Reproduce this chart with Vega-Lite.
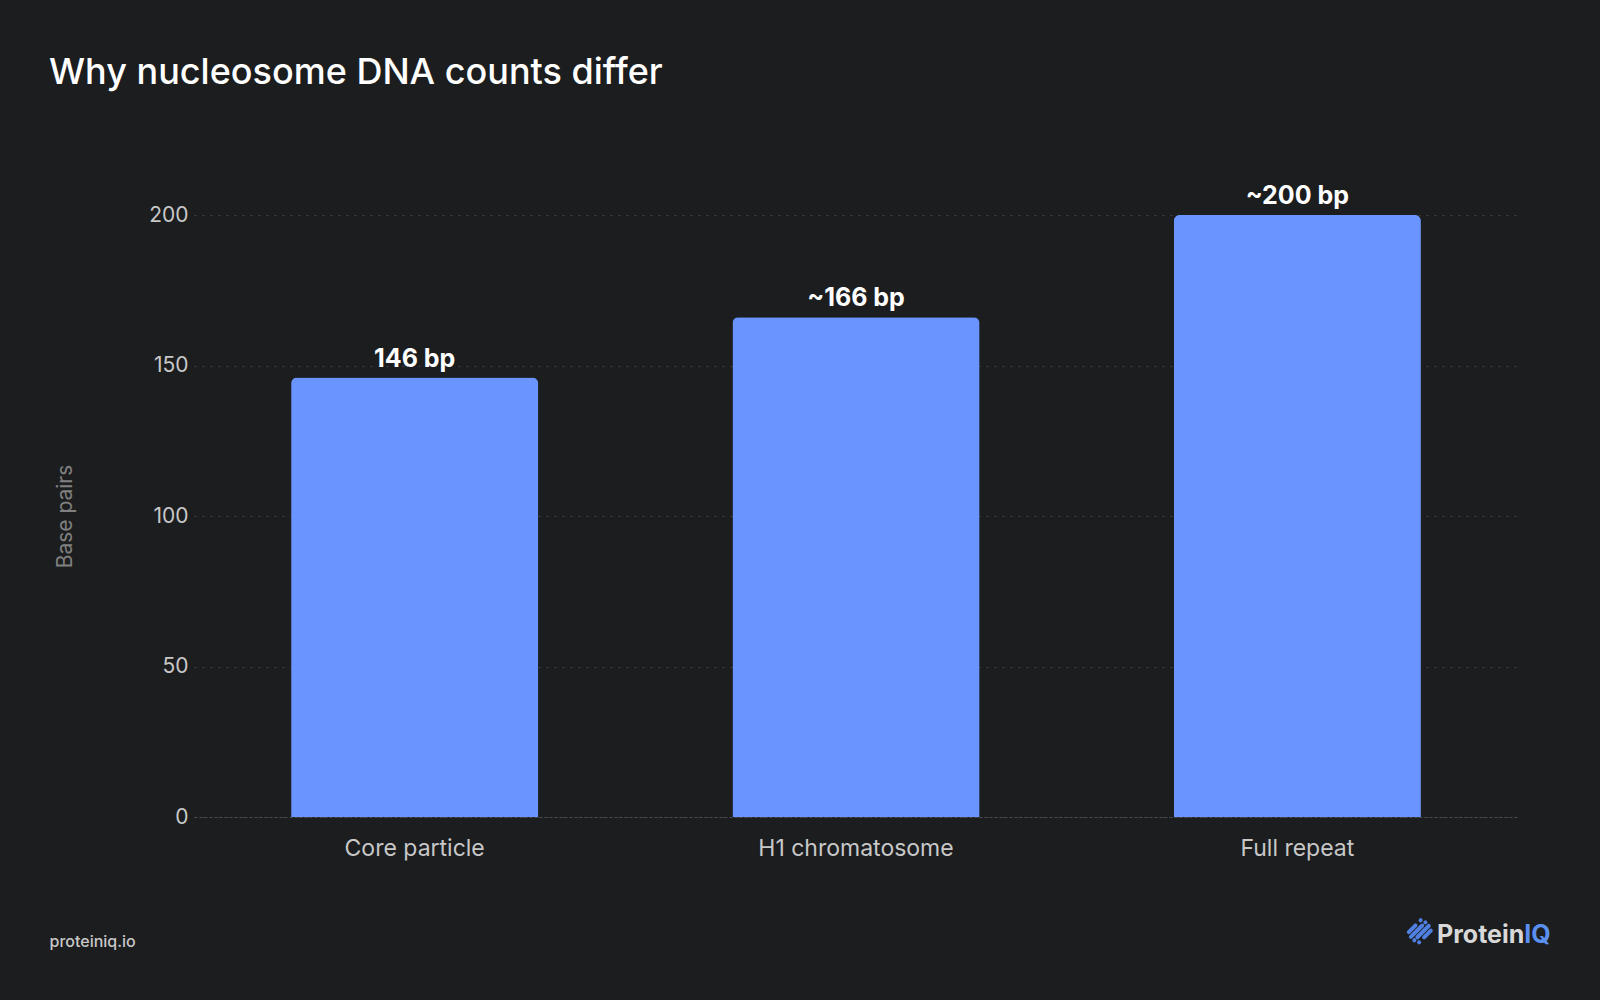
{
  "$schema": "https://vega.github.io/schema/vega-lite/v6.json",
  "description": "Why nucleosome DNA counts differ",
  "width": 1324,
  "height": 602,
  "autosize": {"type": "none"},
  "padding": {"left": 194, "top": 215, "right": 82, "bottom": 183},
  "background": "#1c1d1f",
  "title": {
    "text": "Why nucleosome DNA counts differ",
    "anchor": "start",
    "frame": "group",
    "baseline": "alphabetic",
    "offset": 64,
    "dx": -145,
    "fontSize": 36,
    "fontWeight": 500,
    "color": "#ffffff",
    "font": "Inter"
  },
  "datasets": {
    "counts": [
      {"category": "Core particle", "value": 146, "label": "146 bp"},
      {"category": "H1 chromatosome", "value": 166, "label": "~166 bp"},
      {"category": "Full repeat", "value": 200, "label": "~200 bp"}
    ],
    "brand": [{"brand": "ProteinIQ"}]
  },
  "layer": [
    {
      "data": {"name": "counts"},
      "mark": {"type": "bar", "color": "#6a94ff", "cornerRadiusTopLeft": 6, "cornerRadiusTopRight": 6},
      "encoding": {
        "x": {
          "field": "category",
          "type": "nominal",
          "sort": null,
          "scale": {"paddingInner": 0.44, "paddingOuter": 0.22},
          "axis": {
            "title": "proteiniq.io",
            "titleX": -145,
            "titleY": 129,
            "titleAlign": "left",
            "titleAnchor": null,
            "titleBaseline": "alphabetic",
            "titleFontSize": 16,
            "titleFontWeight": 500,
            "titleColor": "#c8c8c8",
            "labelAngle": 0,
            "labelFontSize": 23,
            "labelLimit": 400,
            "labelColor": "#c8c8c8",
            "labelPadding": 20,
            "ticks": false,
            "domain": true,
            "domainColor": "#4a4b4e",
            "domainDash": [3, 2],
            "grid": false
          }
        },
        "y": {
          "field": "value",
          "type": "quantitative",
          "scale": {"domain": [0, 200], "nice": false},
          "axis": {
            "values": [0, 50, 100, 150, 200],
            "title": "Base pairs",
            "titleX": -129,
            "titleY": 301,
            "titleAngle": 270,
            "titleAlign": "center",
            "titleBaseline": "middle",
            "titleFontSize": 21,
            "titleFontWeight": "normal",
            "titleColor": "#808080",
            "labelFontSize": 21,
            "labelColor": "#c8c8c8",
            "labelPadding": 6,
            "ticks": false,
            "domain": false,
            "grid": true,
            "gridColor": "#3e4043",
            "gridDash": [2, 6],
            "gridWidth": 1
          }
        }
      }
    },
    {
      "data": {"name": "counts"},
      "mark": {"type": "text", "baseline": "alphabetic", "dy": -11, "fontSize": 25, "fontWeight": "bold", "color": "#ffffff"},
      "encoding": {
        "x": {"field": "category", "type": "nominal", "sort": null},
        "y": {"field": "value", "type": "quantitative"},
        "text": {"field": "label"}
      }
    },
    {
      "data": {"name": "brand"},
      "mark": {
        "type": "point",
        "shape": "M9.1,0.06L9.65,-0.49M10.06,-0.9L10.07,-0.91M9.27,0.45L10.2,-0.48M10.45,-0.73L10.46,-0.74M9.55,0.73L9.56,0.72M9.8,0.48L10.73,-0.45M9.94,0.9L9.95,0.89M10.35,0.49L10.9,-0.06",
        "filled": false,
        "stroke": "#4f7fe0",
        "strokeWidth": 4,
        "strokeCap": "round",
        "size": 600,
        "opacity": 1
      },
      "encoding": {
        "x": {"datum": "Full repeat"},
        "y": {"datum": -38}
      }
    },
    {
      "data": {"name": "brand"},
      "mark": {"type": "text", "align": "right", "baseline": "alphabetic", "dx": 227, "fontSize": 25, "fontWeight": "bold", "color": "#d8d8d8"},
      "encoding": {
        "x": {"datum": "Full repeat"},
        "y": {"datum": -42},
        "text": {"value": "Protein"}
      }
    },
    {
      "data": {"name": "brand"},
      "mark": {"type": "text", "align": "left", "baseline": "alphabetic", "dx": 227, "fontSize": 25, "fontWeight": "bold", "color": "#5b8ff0"},
      "encoding": {
        "x": {"datum": "Full repeat"},
        "y": {"datum": -42},
        "text": {"value": "IQ"}
      }
    }
  ],
  "config": {
    "font": "Inter",
    "view": {"stroke": null},
    "axis": {"labelFont": "Inter", "titleFont": "Inter"}
  }
}
